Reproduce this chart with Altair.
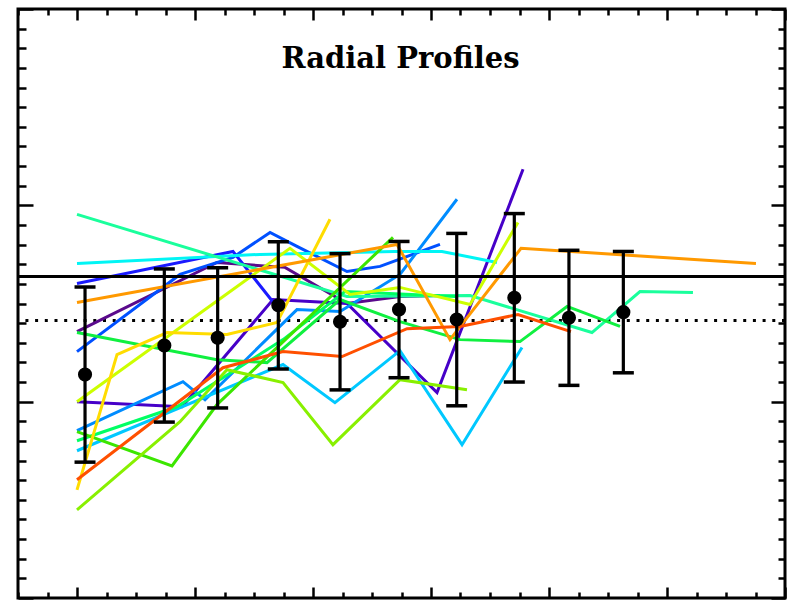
import altair as alt
import pandas as pd

W, H = 767, 589
XMIN, XMAX = -5, 60
YMIN, YMAX = 0, 30

# ---- profile lines (x, y) ----
mint_x = [0, 22.88, 33.31, 43.64, 47.71, 52.20]
mint_y = [19.54, 15.36, 15.41, 13.52, 15.61, 15.56]
cyan_x = [0, 15.51, 26.86, 30.93, 35.59]
cyan_y = [17.04, 17.50, 17.65, 17.65, 17.09]
blue_x = [0, 13.22, 16.78]
blue_y = [16.02, 17.65, 14.95]
dodger_x = [0, 8.73, 13.22, 16.36, 18.64, 22.88, 25.68, 30.76]
dodger_y = [12.55, 16.48, 17.35, 18.62, 17.91, 16.63, 16.89, 18.01]
azure_x = [0, 8.98, 10.85, 18.64, 22.29, 27.37, 32.20]
azure_y = [8.52, 11.02, 10.10, 14.69, 14.59, 16.48, 20.31]
sky_x = [0, 17.46, 21.86, 27.37, 32.63, 37.71]
sky_y = [7.50, 11.89, 9.95, 12.60, 7.81, 12.76]
spring_x = [0, 8.47, 17.46, 22.71, 32.12]
spring_y = [8.01, 9.74, 13.16, 15.61, 15.36]
green_x = [0, 11.86, 16.10, 22.29, 27.37, 32.46, 37.54, 41.53, 46.02]
green_y = [13.52, 12.14, 11.99, 15.20, 14.08, 13.16, 13.06, 14.85, 13.83]
glime_x = [0, 8.05, 11.86, 26.78]
glime_y = [8.47, 6.73, 9.85, 18.37]
lime_x = [0, 8.73, 12.71, 17.46, 21.69, 27.37, 33.05]
lime_y = [4.49, 8.98, 11.63, 10.97, 7.81, 11.12, 10.61]
ygreen_x = [0, 18.05, 23.14, 27.37, 33.31, 37.37]
ygreen_y = [10.00, 17.81, 15.46, 15.82, 14.95, 19.13]
yellow_x = [0, 3.39, 7.63, 12.71, 16.95, 21.44]
yellow_y = [5.51, 12.40, 13.52, 13.42, 14.03, 19.29]
orange_x = [0, 27.12, 31.61, 37.63, 57.54]
orange_y = [15.05, 18.01, 13.16, 17.81, 17.04]
red_x = [0, 12.37, 17.46, 22.46, 27.97, 32.46, 37.37, 41.86]
red_y = [6.02, 11.73, 12.55, 12.30, 13.72, 13.83, 14.44, 13.57]
purple_x = [0, 11.86, 17.63, 22.88, 27.37, 30.76]
purple_y = [13.57, 17.09, 16.84, 15.00, 15.36, 15.41]
indigo_x = [0, 8.90, 16.61, 22.88, 30.51, 37.80]
indigo_y = [10.00, 9.74, 15.20, 15.00, 10.46, 21.84]

series_names = ["purple", "indigo", "blue", "dodger", "azure", "sky", "cyan", "mint",
                "spring", "green", "glime", "lime", "ygreen", "yellow", "orange", "red"]
series_colors = ["#5a0a8c", "#4600c8", "#1a1aff", "#0050ff", "#008cff", "#00c8ff", "#00f5f5", "#1aff9c",
                 "#00ff64", "#10f040", "#3ce600", "#88f000", "#ccff00", "#ffdc00", "#ff9900", "#ff5000"]
series_xy = {
    "purple": (purple_x, purple_y), "indigo": (indigo_x, indigo_y), "blue": (blue_x, blue_y),
    "dodger": (dodger_x, dodger_y), "azure": (azure_x, azure_y), "sky": (sky_x, sky_y),
    "cyan": (cyan_x, cyan_y), "mint": (mint_x, mint_y), "spring": (spring_x, spring_y),
    "green": (green_x, green_y), "glime": (glime_x, glime_y), "lime": (lime_x, lime_y),
    "ygreen": (ygreen_x, ygreen_y), "yellow": (yellow_x, yellow_y), "orange": (orange_x, orange_y),
    "red": (red_x, red_y),
}

# ---- mean profile with error bars ----
mean_x = [0.68, 7.40, 11.92, 17.06, 22.29, 27.29, 32.18, 37.06, 41.69, 46.30]
mean_y = [11.38, 12.86, 13.25, 14.91, 14.07, 14.69, 14.18, 15.29, 14.27, 14.56]
mean_err = [4.46, 3.90, 3.57, 3.24, 3.47, 3.47, 4.39, 4.29, 3.44, 3.09]

ref_solid = [16.38]
ref_dotted = [14.13]
title_text = ["Radial Profiles"]

x_ticks = [XMIN + 2.5 * i for i in range(27)]
y_ticks = list(range(YMIN, YMAX + 1))

rows = []
for name in series_names:
    xs_, ys_ = series_xy[name]
    for i, (a, b) in enumerate(zip(xs_, ys_)):
        rows.append({"series": name, "x": a, "y": b, "i": i})
lines_df = pd.DataFrame(rows)

eb_df = pd.DataFrame({"x": mean_x, "y": mean_y, "err": mean_err})
eb_df["lo"] = eb_df["y"] - eb_df["err"]
eb_df["hi"] = eb_df["y"] + eb_df["err"]

xs = alt.Scale(domain=[XMIN, XMAX], nice=False, zero=False)
ys = alt.Scale(domain=[YMIN, YMAX], nice=False, zero=False)


def tick_size(major, minor):
    return {"condition": {"test": "datum.value % 10 === 0", "value": major}, "value": minor}


common = dict(labels=False, domain=False, grid=False, title="", ticks=True,
              tickColor="black", tickWidth=2.5, tickOpacity=1)
ax_bottom = alt.Axis(orient="top", offset=-H, values=x_ticks, tickSize=tick_size(11, 6), **common)
ax_top = alt.Axis(orient="bottom", offset=-H, values=x_ticks, tickSize=tick_size(11, 6), **common)
ax_left = alt.Axis(orient="right", offset=-W, values=y_ticks, tickSize=tick_size(15, 8), **common)
ax_right = alt.Axis(orient="left", offset=-W, values=y_ticks, tickSize=tick_size(14, 7), **common)

lines = alt.Chart(lines_df).mark_line(strokeWidth=3).encode(
    x=alt.X("x:Q", scale=xs, axis=ax_bottom),
    y=alt.Y("y:Q", scale=ys, axis=ax_left),
    color=alt.Color("series:N", scale=alt.Scale(domain=series_names, range=series_colors), legend=None),
    detail="series:N",
    order=alt.Order("i:Q"),
)

dotted = alt.Chart(pd.DataFrame({"y": ref_dotted})).mark_rule(
    color="black", strokeWidth=3, strokeDash=[3, 6.7]
).encode(y=alt.Y("y:Q", scale=ys, axis=None))

solid = alt.Chart(pd.DataFrame({"y": ref_solid})).mark_rule(
    color="black", strokeWidth=3
).encode(y=alt.Y("y:Q", scale=ys, axis=None))

bars = alt.Chart(eb_df).mark_rule(color="black", strokeWidth=3.2).encode(
    x=alt.X("x:Q", scale=xs, axis=ax_top),
    y=alt.Y("lo:Q", scale=ys, axis=ax_right),
    y2="hi:Q",
)

caps = alt.Chart(eb_df).transform_fold(["lo", "hi"], as_=["k", "v"]).mark_tick(
    color="black", orient="horizontal", size=21, thickness=3.5, opacity=1
).encode(
    x=alt.X("x:Q", scale=xs, axis=None),
    y=alt.Y("v:Q", scale=ys, axis=None),
)

points = alt.Chart(eb_df).mark_circle(color="black", size=200, opacity=1).encode(
    x=alt.X("x:Q", scale=xs, axis=None),
    y=alt.Y("y:Q", scale=ys, axis=None),
)

title = alt.Chart(pd.DataFrame({"t": title_text})).mark_text(
    font="DejaVu Serif", fontWeight="bold", fontSize=29, align="center",
    baseline="alphabetic", color="black"
).encode(x=alt.value(W / 2 - 1), y=alt.value(59), text="t:N")

chart = alt.layer(dotted, lines, solid, bars, caps, points, title).resolve_axis(
    x="independent", y="independent"
).properties(
    width=W, height=H,
    padding={"left": 18, "top": 9, "right": 3, "bottom": 6},
    autosize="none",
).configure_view(stroke="black", strokeWidth=3)

chart.save("out.html", embed_options={"renderer": "svg", "actions": False})
